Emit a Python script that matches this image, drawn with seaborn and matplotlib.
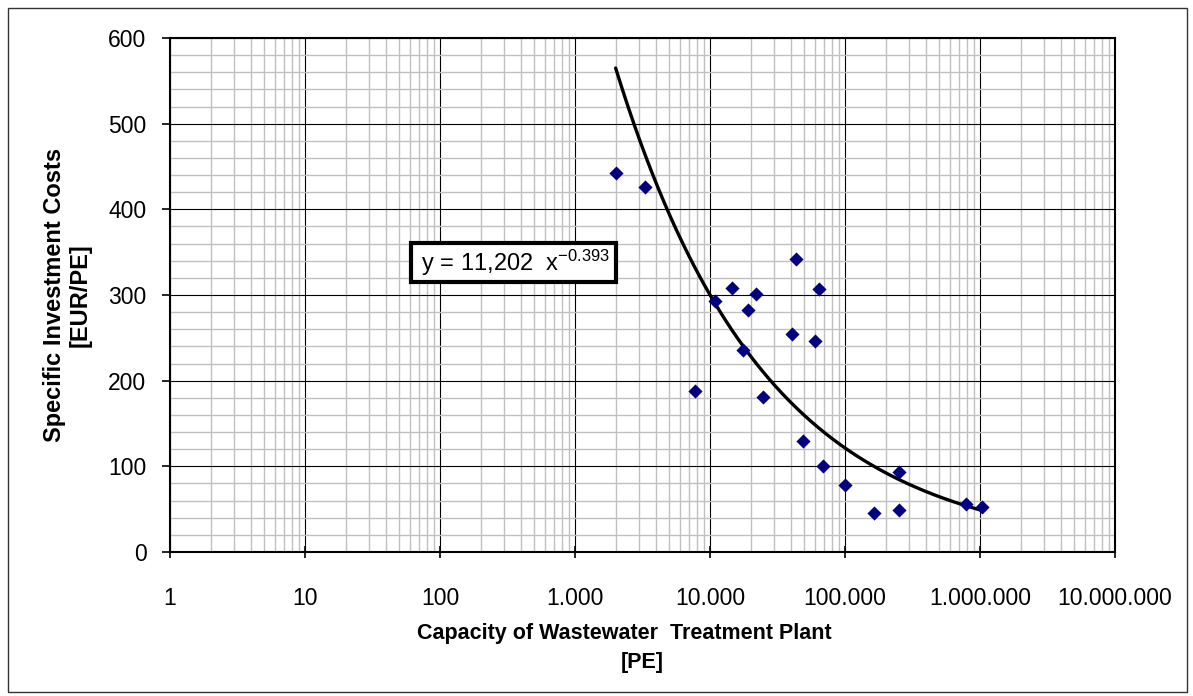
import numpy as np
import matplotlib
matplotlib.use("Agg")
import matplotlib.pyplot as plt
import seaborn as sns
from matplotlib.patches import Rectangle
from matplotlib.ticker import FixedLocator, FixedFormatter, LogLocator, MultipleLocator, NullFormatter

# Plant capacity (population equivalents) and specific investment costs (EUR/PE)
capacity_pe = [2000, 3300, 7800, 10800, 14600, 17700, 19200, 22000, 24600, 40300,
               43200, 48900, 60000, 64500, 68400, 100000, 163000, 250000, 251000,
               783000, 1030000]
cost_eur_pe = [442, 426, 188, 293, 308, 236, 283, 301, 181, 254,
               342, 129, 246, 307, 100, 78, 46, 49, 93,
               56, 52]

# Power-law trend: y = a * x^b
fit_coef = 11202
fit_exp = -0.393
fit_label = r" y = 11,202  x$^{-0.393}$ "

x_tick_values = [1, 10, 100, 1000, 10000, 100000, 1000000, 10000000]
x_tick_labels = ["1", "10", "100", "1.000", "10.000", "100.000", "1.000.000", "10.000.000"]
y_tick_values = [0, 100, 200, 300, 400, 500, 600]

sns.set_theme(style="white")
plt.rcParams["font.family"] = ["Liberation Sans", "DejaVu Sans"]
plt.rcParams["mathtext.default"] = "regular"

W, H = 1193, 696
fig = plt.figure(figsize=(W / 100, H / 100), dpi=100)
fig.patch.set_facecolor("white")
ax = fig.add_axes([170 / W, 1 - 552 / H, 945 / W, 514 / H])

ax.set_xscale("log")
ax.set_xlim(1, 1e7)
ax.set_ylim(0, 600)

ax.xaxis.set_major_locator(FixedLocator(x_tick_values))
ax.xaxis.set_major_formatter(FixedFormatter(x_tick_labels))
ax.xaxis.set_minor_locator(LogLocator(base=10, subs=np.arange(2, 10), numticks=100))
ax.xaxis.set_minor_formatter(NullFormatter())
ax.yaxis.set_major_locator(FixedLocator(y_tick_values))
ax.yaxis.set_minor_locator(MultipleLocator(20))

ax.grid(which="minor", color="#c0c0c0", linewidth=1.0)
ax.grid(which="major", color="black", linewidth=0.8)
ax.set_axisbelow(True)

for side in ["left", "right", "top", "bottom"]:
    ax.spines[side].set_visible(True)
    ax.spines[side].set_color("black")
    ax.spines[side].set_linewidth(1.5)

ax.tick_params(which="minor", length=0)
ax.tick_params(axis="x", which="major", direction="inout", length=8, width=1.2,
               color="black", labelsize=16.5, pad=21, labelcolor="black")
ax.tick_params(axis="y", which="major", direction="out", length=6, width=1.2,
               color="black", labelsize=16.5, pad=11, labelcolor="black")
ax.tick_params(bottom=True, left=True)

# Fitted trend curve over the range of the observed plants
xs = np.logspace(np.log10(min(capacity_pe)), np.log10(max(capacity_pe)), 300)
ys = fit_coef * xs ** fit_exp
sns.lineplot(x=xs, y=ys, color="black", linewidth=2.4, ax=ax, zorder=3,
             sort=False, estimator=None)

sns.scatterplot(x=capacity_pe, y=cost_eur_pe, marker="D", s=52, color="#000080",
                edgecolor="#000080", linewidth=0, ax=ax, zorder=4)

ax.text(350, 338, fit_label, fontsize=17, ha="center", va="center", color="black",
        zorder=5,
        bbox=dict(boxstyle="square,pad=0.18", facecolor="white", edgecolor="black",
                  linewidth=3))

ax.set_xlabel("Capacity of Wastewater  Treatment Plant      \n[PE]", fontsize=15.5,
              fontweight="bold", linespacing=1.5, color="black")
ax.xaxis.set_label_coords(0.5, -0.138)
ax.xaxis.label.set_va("top")
ax.set_ylabel("Specific Investment Costs\n[EUR/PE]", fontsize=17,
              fontweight="bold", linespacing=1.15, color="black")
ax.yaxis.set_label_coords(-0.083, 0.5)

# Outer chart frame
fig.patches.append(Rectangle((8 / W, 1 - 692 / H), (1187 - 8) / W, (692 - 8) / H,
                             transform=fig.transFigure, fill=False,
                             edgecolor="#333333", linewidth=1.0))

fig.savefig("out.png", dpi=100, facecolor="white")
